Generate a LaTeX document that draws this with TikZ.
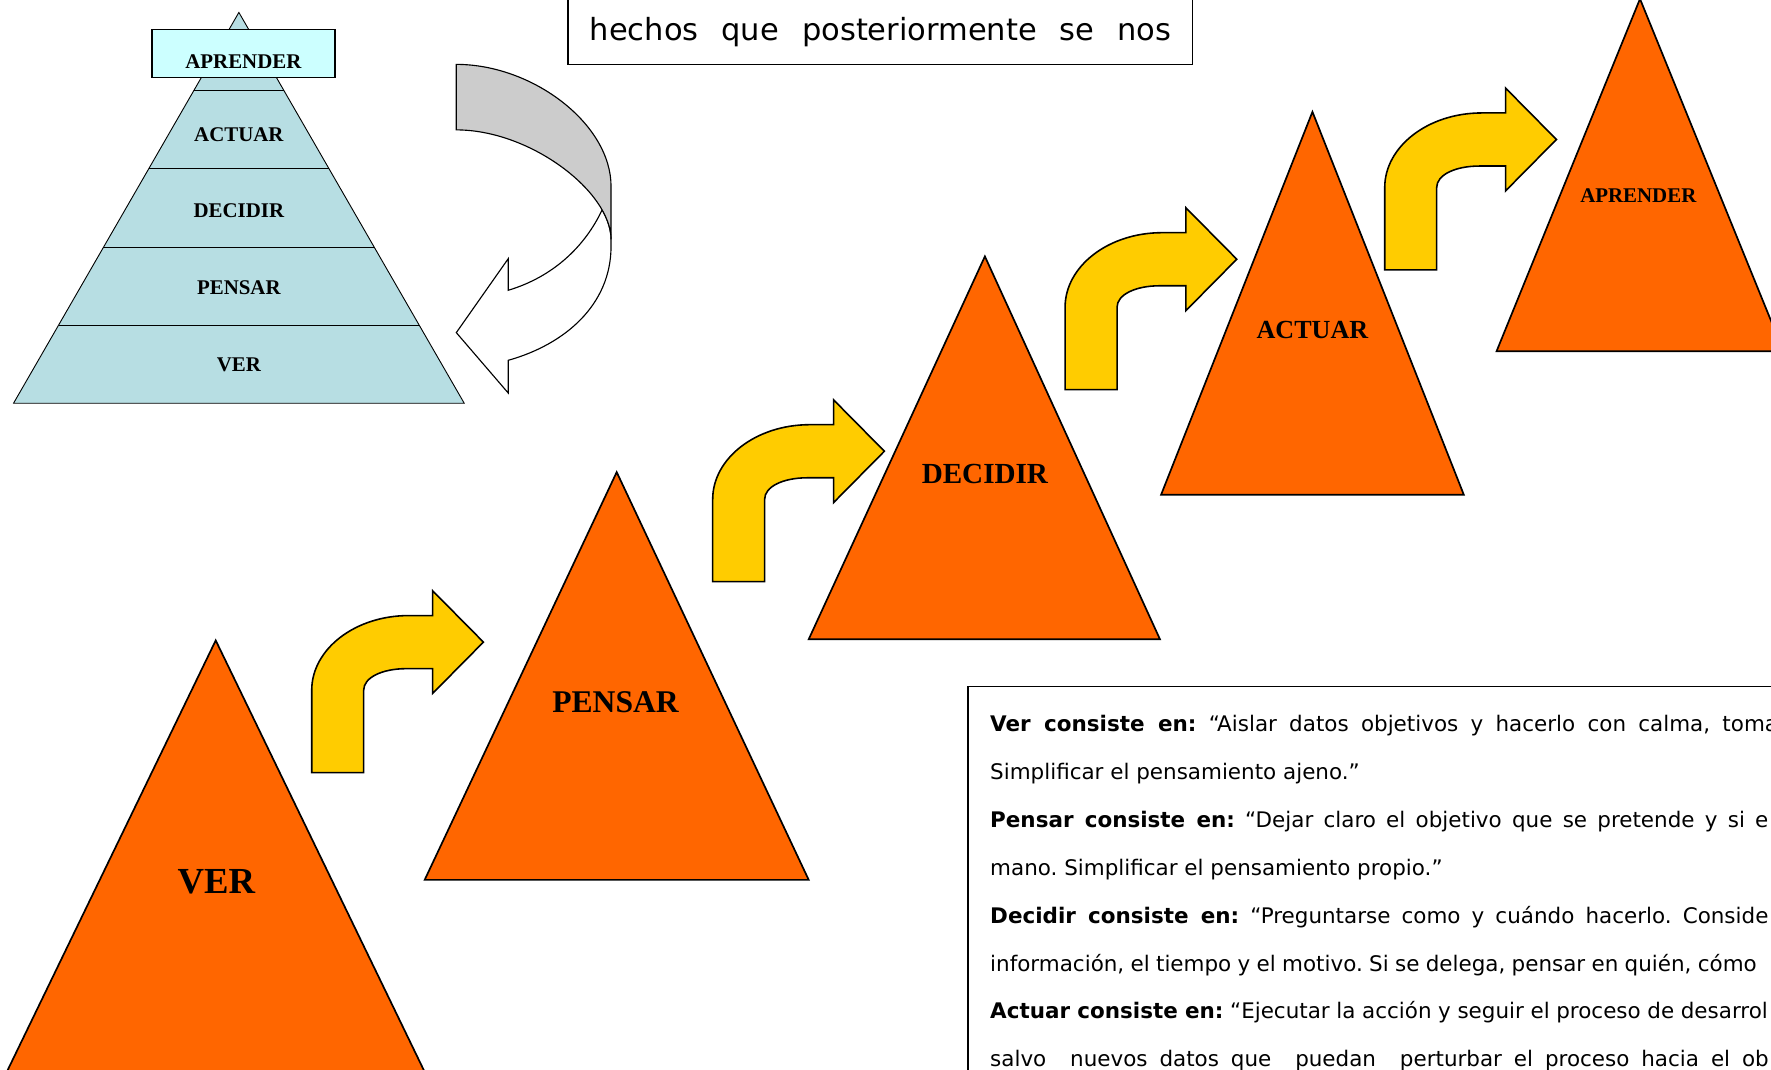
\documentclass[tikz,border=0pt]{standalone}
\usepackage{fontspec}
\newfontfamily\labfont{Liberation Serif}
\newfontfamily\txtfont{DejaVu Sans}
\definecolor{orng}{HTML}{FF6600}
\definecolor{yel}{HTML}{FFCC00}
\definecolor{pyr}{HTML}{B7DEE3}
\definecolor{boxc}{HTML}{CCFFFF}
\definecolor{gry}{HTML}{CCCCCC}
\frenchspacing
\newcommand\justline[2]{\makebox[#1][s]{#2}}
\tikzset{
  tri/.style={fill=orng,draw=black,line width=1.5pt,line join=miter},
  barrow/.style={fill=yel,draw=black,line width=1.4pt,line join=miter},
  biglab/.style={font={\labfont\bfseries\fontsize{#1}{#1}\selectfont},anchor=base,inner sep=0pt},
  txtline/.style={font={\txtfont\fontsize{19}{19}\selectfont},anchor=base west,inner sep=0pt},
  bentarrow/.pic={
    \draw[barrow] (0,139) -- (0,66) .. controls (0,30) and (38,0) .. (86,0) -- (107,0)
      -- (107,-22) -- (152,23.5) -- (107,69) -- (107,47) -- (84,47)
      .. controls (62,47) and (46,55) .. (46,66) -- (46,139) -- cycle;
  }
}
\begin{document}
\begin{tikzpicture}[x=1pt,y=-1pt]
\useasboundingbox (0,0) rectangle (1568,947);
\clip (0,0) rectangle (1568,947);
\fill[white] (0,0) rectangle (1568,947);

% small pyramid
\draw[fill=pyr,line width=0.8pt] (211.5,11) -- (411,357) -- (12,357) -- cycle;
\draw[line width=0.8pt] (171.7,80) -- (251.3,80);
\draw[line width=0.8pt] (131.9,149) -- (291.1,149);
\draw[line width=0.8pt] (91.6,219) -- (331.4,219);
\draw[line width=0.8pt] (51.8,288) -- (371.2,288);
\draw[fill=boxc,line width=1.1pt] (134.5,26) rectangle (296.5,68.5);
\node[biglab=18.5] (pA) at (215.5,60.5) {APRENDER};
\node[biglab=18.5] (pB) at (211.5,125) {ACTUAR};
\node[biglab=18.5] (pC) at (211.5,193) {DECIDIR};
\node[biglab=18.5] (pD) at (211.5,261) {PENSAR};
\node[biglab=18.5] (pE) at (211.5,329) {VER};

% curved arrow (front white part, then grey back part)
\draw[fill=white,line width=1pt,line join=miter]
  (541,212) .. controls (541,203.6) and (538.2,194.7) .. (533.1,185.8)
  .. controls (518,218) and (490,245) .. (450,257) -- (450,229) -- (404,294.5)
  -- (450,348) -- (450,319) .. controls (500,305) and (541,270) .. (541,218) -- cycle;
\draw[fill=gry,line width=1pt,line join=miter]
  (404,57) .. controls (472,57) and (541,110) .. (541,165) -- (541,212)
  .. controls (541,170) and (470,115) .. (404,115) -- cycle;

% top text box
\draw[line width=1.2pt] (503,-5) rectangle (1056,57);
\node[font={\txtfont\fontsize{27}{27}\selectfont},anchor=base west,inner sep=0pt] (top) at (522,36)
  {\justline{515pt}{hechos que posteriormente se nos}};

% orange triangles
\draw[tri] (191,567) -- (381.3,960) -- (0.7,960) -- cycle;
\draw[tri] (546,418) -- (716,779) -- (376,779) -- cycle;
\draw[tri] (872,227) -- (1027,566) -- (716,566) -- cycle;
\draw[tri] (1162,99) -- (1296,438) -- (1028,438) -- cycle;
\draw[tri] (1452,-1) -- (1579,311) -- (1325,311) -- cycle;
\node[biglab=32.5] (tVer) at (191.5,791.5) {VER};
\node[biglab=28] (tPen) at (545,630.5) {PENSAR};
\node[biglab=25.8] (tDec) at (872,428.5) {DECIDIR};
\node[biglab=23.1] (tAct) at (1162,300) {ACTUAR};
\node[biglab=18.5] (tApr) at (1450.5,179) {APRENDER};

% bent arrows
\pic at (276,545) {bentarrow};
\pic at (631,376) {bentarrow};
\pic at (943,206) {bentarrow};
\pic at (1226,100) {bentarrow};

% bottom-right text box
\draw[line width=1.2pt] (857,608) rectangle (1600,1000);
\node[txtline] (l1) at (876.5,648) {\justline{697.5pt}{\textbf{Ver consiste en:} “Aislar datos objetivos y hacerlo con calma, toma}};
\node[txtline] (l2) at (876.5,690.5) {Simplificar el pensamiento ajeno.”};
\node[txtline] (l3) at (876.5,733) {\justline{689pt}{\textbf{Pensar consiste en:} “Dejar claro el objetivo que se pretende y si e}};
\node[txtline] (l4) at (876.5,775) {mano. Simplificar el pensamiento propio.”};
\node[txtline] (l5) at (876.5,817.5) {\justline{689pt}{\textbf{Decidir consiste en:} “Preguntarse como y cuándo hacerlo. Conside}};
\node[txtline] (l6) at (876.5,860) {\justline{678.7pt}{información, el tiempo y el motivo. Si se delega, pensar en quién, cómo}};
\node[txtline] (l7) at (876.5,902) {\justline{688.5pt}{\textbf{Actuar consiste en:} “Ejecutar la acción y seguir el proceso de desarrol}};
\node[txtline] (l8) at (876.5,944.5) {\justline{689.3pt}{salvo\ \ nuevos datos que\ \ puedan\ \ perturbar el proceso hacia el ob}};
\end{tikzpicture}
\end{document}
